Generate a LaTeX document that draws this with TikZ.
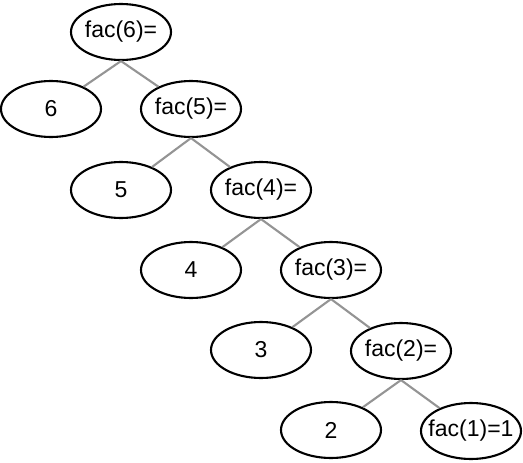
\documentclass[tikz,border=0pt]{standalone}
\usepackage{fontspec}
\setmainfont{Liberation Sans}
\usetikzlibrary{shapes.geometric}
\begin{document}
\begin{tikzpicture}[x=1pt,y=-1pt,
  tnode/.style={ellipse,draw=black,line width=2.1pt,minimum width=100pt,minimum height=56pt,inner sep=0pt,font=\fontsize{23}{27}\selectfont,fill=white},
  edge/.style={draw=black!42,line width=2.1pt}]
\useasboundingbox (0,0) rectangle (523,463);
\node[tnode] (f6) at (121,32) {\makebox[0pt]{fac(6)=}};
\node[tnode] (n6) at (51,109) {\makebox[0pt]{6}};
\node[tnode] (f5) at (191,109) {\makebox[0pt]{fac(5)=}};
\node[tnode] (n5) at (121,190) {\makebox[0pt]{5}};
\node[tnode] (f4) at (261,190) {\makebox[0pt]{fac(4)=}};
\node[tnode] (n4) at (191,270) {\makebox[0pt]{4}};
\node[tnode] (f3) at (331,270) {\makebox[0pt]{fac(3)=}};
\node[tnode] (n3) at (261,350) {\makebox[0pt]{3}};
\node[tnode] (f2) at (401,351) {\makebox[0pt]{fac(2)=}};
\node[tnode] (n2) at (331,430) {\makebox[0pt]{2}};
\node[tnode] (f1) at (471,431) {\makebox[0pt]{fac(1)=1}};
\foreach \p/\c in {f6/n6,f6/f5,f5/n5,f5/f4,f4/n4,f4/f3,f3/n3,f3/f2,f2/n2,f2/f1}
  \draw[edge] (\p.south) -- (\c);
\end{tikzpicture}
\end{document}
